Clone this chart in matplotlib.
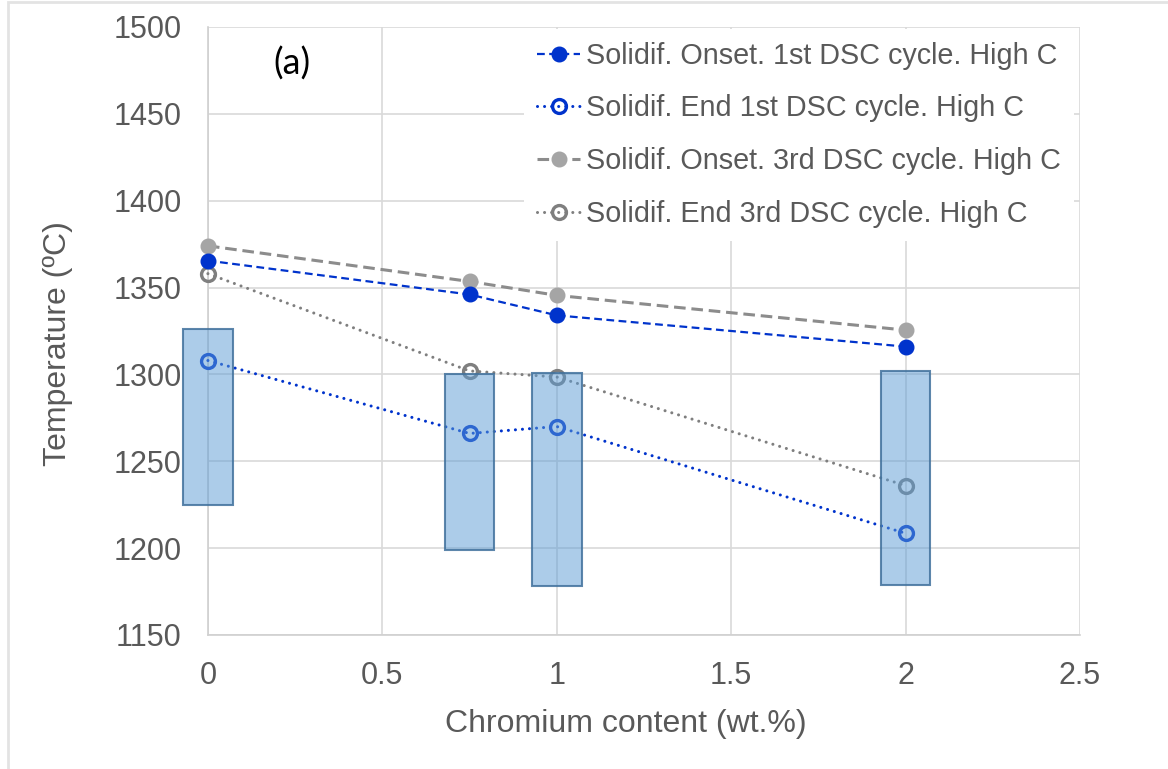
import matplotlib
matplotlib.use('Agg')
import matplotlib.pyplot as plt
from matplotlib.patches import Rectangle
import numpy as np

plt.rcParams['font.family'] = ['Liberation Sans', 'DejaVu Sans']

# chromium content (wt.%)
cr = [0, 0.75, 1, 2]

# DSC solidification temperatures (ºC)
onset_1st = [1365.5, 1346, 1334, 1316]
end_1st = [1308, 1266, 1270, 1208.5]
onset_3rd = [1374, 1353.5, 1345.5, 1325.5]
end_3rd = [1358, 1302, 1298.5, 1236]

# predicted solidification ranges (low, high)
range_low = [1225, 1199, 1178, 1179]
range_high = [1326, 1300, 1301, 1302]

x_ticks = [0, 0.5, 1, 1.5, 2, 2.5]
x_ticklabels = ['0', '0.5', '1', '1.5', '2', '2.5']
y_ticks = [1150, 1200, 1250, 1300, 1350, 1400, 1450, 1500]

labels = ['Solidif. Onset. 1st DSC cycle. High C',
          'Solidif. End 1st DSC cycle. High C',
          'Solidif. Onset. 3rd DSC cycle. High C',
          'Solidif. End 3rd DSC cycle. High C']

TXT = '#595959'
GRID = '#D9D9D9'
BLUE = '#0033CC'
DOTS = (0, (0.01, 2.3))

fig = plt.figure(figsize=(11.68, 7.69), dpi=100)
ax = fig.add_axes([0.178, 0.1743, 0.7467, 0.7906])

# chart area border (only top/left edges fall inside the image)
fig.patches.append(Rectangle((0.0065, -0.1), 1.2, 1.097, transform=fig.transFigure,
                             fill=False, edgecolor='#E3E3E3', lw=2, zorder=0))

ax.plot(cr, onset_1st, color=BLUE, lw=1.6, dashes=(3.5, 2),
        marker='o', ms=10.5, mfc=BLUE, mec=BLUE, label=labels[0], zorder=3, clip_on=False)
ax.plot(cr, end_1st, color=BLUE, lw=2.2, linestyle=DOTS, dash_capstyle='round',
        marker='o', ms=10, mfc='none', mec=BLUE, mew=2.4, label=labels[1], zorder=3,
        clip_on=False)
ax.plot(cr, onset_3rd, color='#8C8C8C', lw=2.2, dashes=(3.8, 1.9),
        marker='o', ms=10.5, mfc='#A5A5A5', mec='#A5A5A5', label=labels[2], zorder=2.9,
        clip_on=False)
ax.plot(cr, end_3rd, color='#7F7F7F', lw=2.2, linestyle=DOTS, dash_capstyle='round',
        marker='o', ms=10, mfc='none', mec='#7F7F7F', mew=2.4, label=labels[3], zorder=2.9,
        clip_on=False)

# translucent range boxes drawn over the lines
heights = np.array(range_high) - np.array(range_low)
ax.bar(cr, heights, bottom=range_low, width=0.142,
       color=(0.357, 0.608, 0.835, 0.5), edgecolor=(0.255, 0.443, 0.612, 0.85),
       lw=1.5, zorder=4, clip_on=False)

ax.set_xlim(0, 2.5)
ax.set_ylim(1150, 1500)
ax.set_xticks(x_ticks)
ax.set_xticklabels(x_ticklabels)
ax.set_yticks(y_ticks)
ax.tick_params(length=0, labelsize=22, colors=TXT)
ax.tick_params(axis='y', pad=19)
ax.tick_params(axis='x', pad=19)
ax.grid(True, color=GRID, lw=1.2, zorder=0)
ax.set_axisbelow(True)
for side in ['top', 'right']:
    ax.spines[side].set_visible(False)
for side in ['left', 'bottom']:
    ax.spines[side].set_color('#D0D0D0')
    ax.spines[side].set_linewidth(1.2)

ax.set_xlabel('Chromium content (wt.%)', fontsize=23, color=TXT)
ax.xaxis.set_label_coords(0.479, -0.122)
ax.set_ylabel('Temperature (ºC)', fontsize=23, color=TXT)
ax.yaxis.set_label_coords(-0.155, 0.48)

ax.text(0.24, 1479, '(a)', fontsize=26, family=['Lato', 'DejaVu Sans'],
        color='black', ha='center', va='center', zorder=6)

leg = ax.legend(loc='upper right', bbox_to_anchor=(0.993, 0.997), fontsize=20.7,
                handlelength=1.5, handletextpad=0.2, labelspacing=0.86,
                borderpad=0.45, borderaxespad=0, frameon=True, fancybox=False,
                framealpha=1, facecolor='white', edgecolor='none')
leg.set_zorder(10)
for t in leg.get_texts():
    t.set_color(TXT)

fig.savefig('out.png', dpi=100)
